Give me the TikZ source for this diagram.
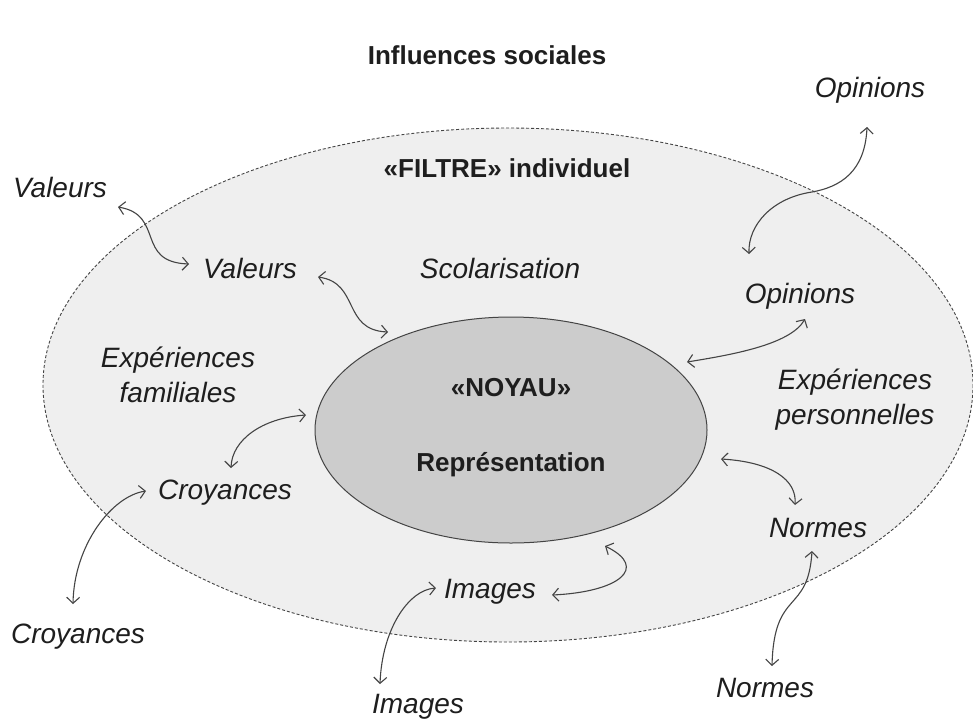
\documentclass[tikz,border=0pt]{standalone}
\usepackage{fontspec}
\setmainfont{Liberation Sans}
\usetikzlibrary{arrows.meta}
\definecolor{outerfill}{HTML}{EFEFEF}
\definecolor{innerfill}{HTML}{CCCCCC}
\definecolor{txt}{HTML}{1E1E1E}
\definecolor{edge}{HTML}{444444}
\tikzset{
  lab/.style={font=\fontsize{28}{35}\selectfont\itshape, text=txt, inner sep=0pt, align=center},
  boldlab/.style={font=\fontsize{26}{31}\selectfont\bfseries, text=txt, inner sep=0pt, align=center},
  link/.style={draw=edge, line width=1.1pt, {Straight Barb[length=6pt,width=13pt]}-{Straight Barb[length=6pt,width=13pt]}},
}
\begin{document}
\begin{tikzpicture}[x=1pt,y=-1pt]
\useasboundingbox (0,0) rectangle (973,723);
\fill[white] (0,0) rectangle (973,723);
\clip (0,0) rectangle (973,723);
% ellipses
\draw[fill=outerfill, draw=edge, line width=0.9pt, dash pattern=on 3pt off 2pt] (508,385) ellipse [x radius=465, y radius=257];
\draw[fill=innerfill, draw=edge, line width=1pt] (511,430) ellipse [x radius=196, y radius=113];
% texts
\node[boldlab] (title) at (487,55) {Influences sociales};
\node[boldlab] (filtre) at (507,168) {«FILTRE» individuel};
\node[boldlab] (noyau) at (511,388) {«NOYAU»};
\node[boldlab] (repr) at (511,465) {Représentation};
\node[lab] (valO) at (60,187) {Valeurs};
\node[lab] (valI) at (250,268) {Valeurs};
\node[lab] (scol) at (500,268) {Scolarisation};
\node[lab] (opiO) at (870,90) {Opinions};
\node[lab] (opiI) at (800,296) {Opinions};
\node[lab] (expF) at (178,375) {Expériences\\familiales};
\node[lab] (expP) at (855,400) {Expériences\\personnelles};
\node[lab] (croI) at (225,493) {Croyances};
\node[lab] (norI) at (818,528) {Normes};
\node[lab] (imgI) at (490,592) {Images};
\node[lab] (croO) at (78,637) {Croyances};
\node[lab] (imgO) at (418,707) {Images};
\node[lab] (norO) at (765,688) {Normes};
% connector ends
\coordinate (a1) at (118,207); \coordinate (b1) at (189,264);
\coordinate (a2) at (318,277); \coordinate (b2) at (388,332);
\coordinate (a3) at (306,415); \coordinate (b3) at (231,468);
\coordinate (a4) at (146,491); \coordinate (b4) at (73,604);
\coordinate (a5) at (867,127); \coordinate (b5) at (749,254);
\coordinate (a6) at (805,319); \coordinate (b6) at (687,362);
\coordinate (a7) at (721,459); \coordinate (b7) at (795,505);
\coordinate (a8) at (812,551); \coordinate (b8) at (772,666);
\coordinate (a9) at (605,546); \coordinate (b9) at (552,595);
\coordinate (a10) at (436,588); \coordinate (b10) at (380,684);
% connectors
\draw[link] (a1) .. controls (165,215) and (135,262) .. (b1);
\draw[link] (a2) .. controls (360,283) and (342,330) .. (b2);
\draw[link] (a3) .. controls (262,418) and (232,440) .. (b3);
\draw[link] (a4) .. controls (112,496) and (74,545) .. (b4);
\draw[link] (a5) .. controls (865,172) and (840,187) .. (812,192) .. controls (772,198) and (748,225) .. (b5);
\draw[link] (a6) .. controls (790,345) and (730,355) .. (b6);
\draw[link] (a7) .. controls (772,462) and (797,480) .. (b7);
\draw[link] (a8) .. controls (808,615) and (774,588) .. (b8);
\draw[link] (a9) .. controls (650,568) and (618,592) .. (b9);
\draw[link] (a10) .. controls (408,590) and (382,630) .. (b10);
\end{tikzpicture}
\end{document}
